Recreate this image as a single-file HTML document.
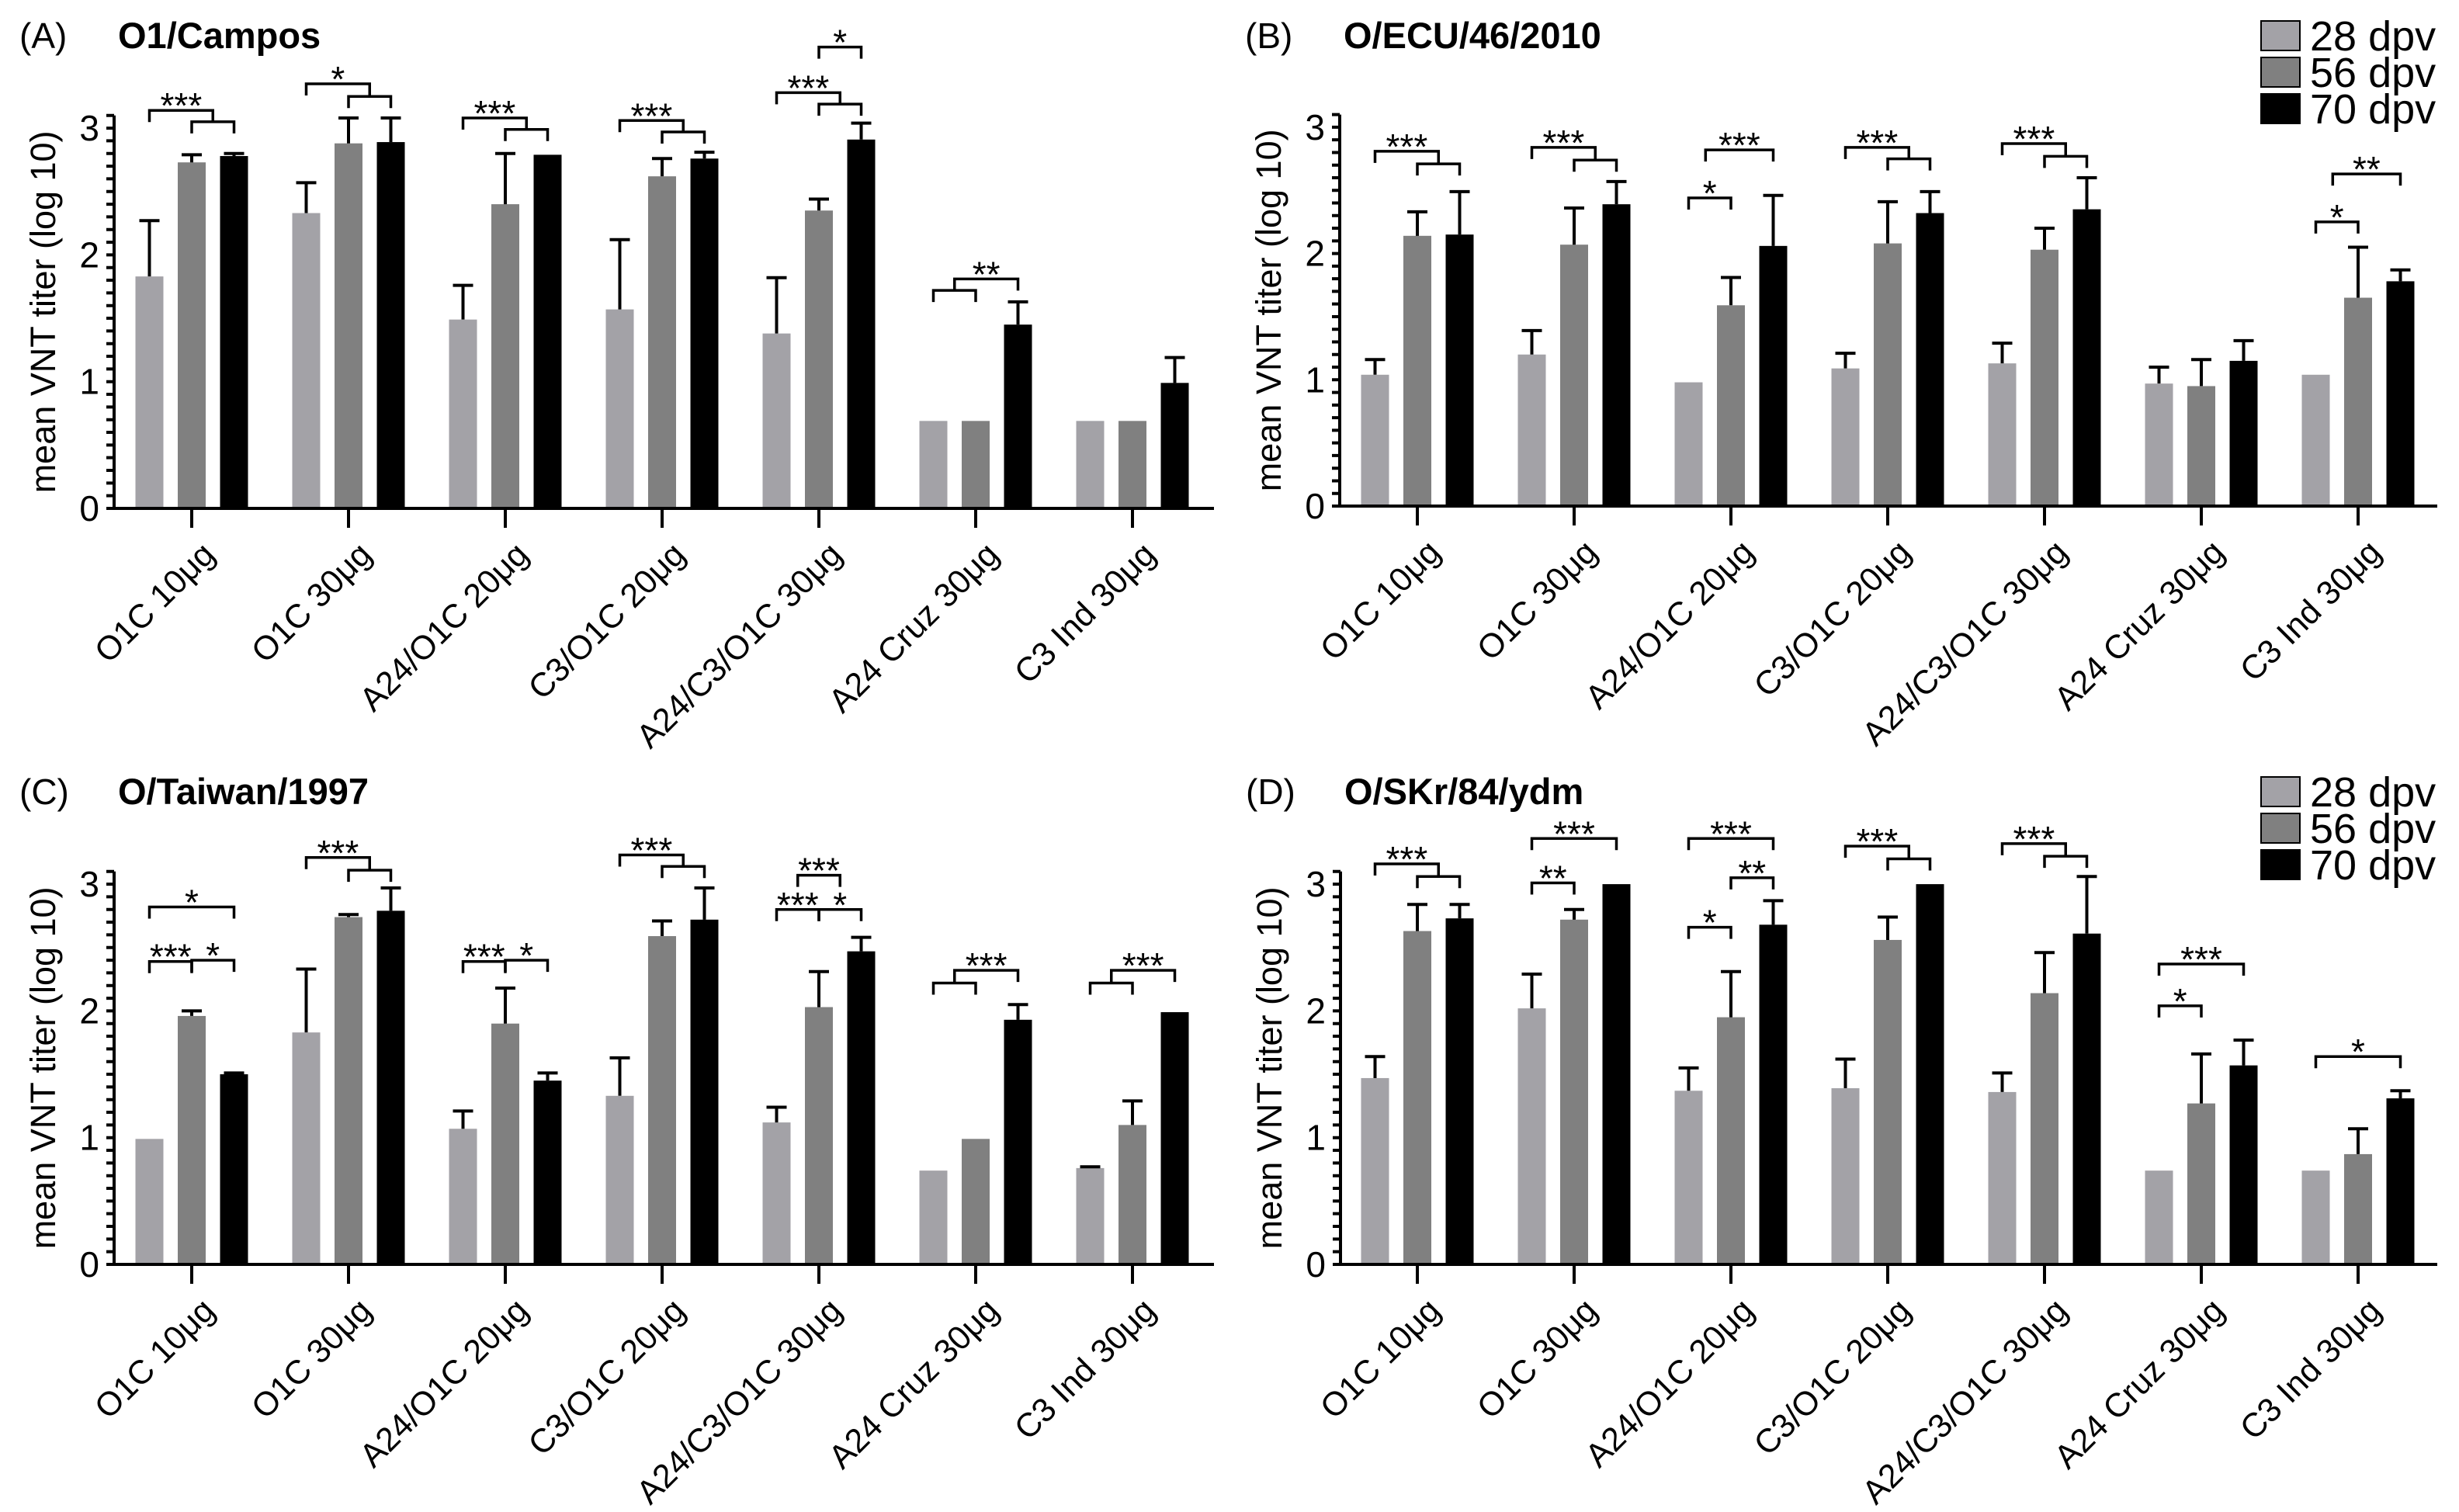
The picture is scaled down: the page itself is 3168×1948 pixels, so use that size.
<!DOCTYPE html>
<html><head><meta charset="utf-8">
<style>
html,body{margin:0;padding:0;background:#fff;}
svg{display:block;font-family:"Liberation Sans",Arial,sans-serif;}
</style></head>
<body>
<svg id="fig" width="3168" height="1948" viewBox="0 0 3168 1948" xmlns="http://www.w3.org/2000/svg"></svg>
<script>
const categories = ["O1C 10μg","O1C 30μg","A24/O1C 20μg","C3/O1C 20μg","A24/C3/O1C 30μg","A24 Cruz 30μg","C3 Ind 30μg"];
const tickLabels = [0,1,2,3];
const seriesNames = ["28 dpv","56 dpv","70 dpv"];

const A28 = [1.83,2.33,1.49,1.57,1.38,0.69,0.69];
const A28e = [2.27,2.57,1.76,2.12,1.82,null,null];
const A56 = [2.73,2.88,2.40,2.62,2.35,0.69,0.69];
const A56e = [2.79,3.08,2.80,2.76,2.44,null,null];
const A70 = [2.78,2.89,2.79,2.76,2.91,1.45,0.99];
const A70e = [2.80,3.08,null,2.81,3.04,1.63,1.19];
const ASig = [[0,0,1.5,3.14,'***'],[0,1,2,3.05,''],[1,0,1.5,3.35,'*'],[1,1,2,3.25,''],[2,0,1.5,3.08,'***'],[2,1,2,2.99,''],[3,0,1.5,3.06,'***'],[3,1,2,2.97,''],[4,0,1.5,3.28,'***'],[4,1,2,3.19,''],[4,1,2,3.64,'*'],[5,0.5,2,1.81,'**'],[5,0,1,1.72,'']];

const B28 = [1.04,1.20,0.98,1.09,1.13,0.97,1.04];
const B28e = [1.16,1.39,null,1.21,1.29,1.10,null];
const B56 = [2.14,2.07,1.59,2.08,2.03,0.95,1.65];
const B56e = [2.33,2.36,1.81,2.41,2.20,1.16,2.05];
const B70 = [2.15,2.39,2.06,2.32,2.35,1.15,1.78];
const B70e = [2.49,2.57,2.46,2.49,2.60,1.31,1.87];
const BSig = [[0,0,1.5,2.81,'***'],[0,1,2,2.71,''],[1,0,1.5,2.84,'***'],[1,1,2,2.74,''],[2,0,1,2.44,'*'],[2,0.4,2,2.82,'***'],[3,0,1.5,2.84,'***'],[3,1,2,2.75,''],[4,0,1.5,2.87,'***'],[4,1,2,2.77,''],[6,0,1,2.25,'*'],[6,0.4,2,2.63,'**']];

const C28 = [0.99,1.83,1.07,1.33,1.12,0.74,0.76];
const C28e = [null,2.33,1.21,1.63,1.24,null,0.77];
const C56 = [1.96,2.74,1.90,2.59,2.03,0.99,1.10];
const C56e = [2.00,2.76,2.18,2.71,2.31,null,1.29];
const C70 = [1.50,2.79,1.45,2.72,2.47,1.93,1.99];
const C70e = [1.51,2.97,1.51,2.97,2.58,2.05,null];
const CSig = [[0,0,1,2.39,'***'],[0,1,2,2.40,'*'],[0,0,2,2.82,'*'],[1,0,1.5,3.21,'***'],[1,1,2,3.11,''],[2,0,1,2.39,'***'],[2,1,2,2.40,'*'],[3,0,1.5,3.23,'***'],[3,1,2,3.14,''],[4,0,1,2.80,'***'],[4,1,2,2.80,'*'],[4,0.5,1.5,3.07,'***'],[5,0.5,2,2.32,'***'],[5,0,1,2.22,''],[6,0.5,2,2.32,'***'],[6,0,1,2.22,'']];

const D28 = [1.47,2.02,1.37,1.39,1.36,0.74,0.74];
const D28e = [1.64,2.29,1.55,1.62,1.51,null,null];
const D56 = [2.63,2.72,1.95,2.56,2.14,1.27,0.87];
const D56e = [2.84,2.80,2.31,2.74,2.46,1.66,1.07];
const D70 = [2.73,3.00,2.68,3.00,2.61,1.57,1.31];
const D70e = [2.84,null,2.87,null,3.06,1.77,1.37];
const DSig = [[0,0,1.5,3.16,'***'],[0,1,2,3.06,''],[1,0,1,3.01,'**'],[1,0,2,3.36,'***'],[2,0,1,2.66,'*'],[2,1,2,3.05,'**'],[2,0,2,3.36,'***'],[3,0,1.5,3.30,'***'],[3,1,2,3.20,''],[4,0,1.5,3.32,'***'],[4,1,2,3.22,''],[5,0,1,2.04,'*'],[5,0,2,2.37,'***'],[6,0,2,1.64,'*']];

const NS = "http://www.w3.org/2000/svg";
const svg = document.getElementById('fig');
const colors = ["#a3a2a7","#808080","#000000"];
function mk(tag, attrs, parent){
  const e = document.createElementNS(NS, tag);
  for (const k in attrs) e.setAttribute(k, attrs[k]);
  (parent||svg).appendChild(e);
  return e;
}
function drawPanel(p){
  const g = mk('g', {});
  
  
  const y = v => p.base - v * p.unit;
  const gx = i => p.g0 + i * 202;
  const bx = (i, s) => gx(i) + (s - 1) * 54.5;
  const t1 = mk('text', {x: p.ox - 122, y: p.titleY, 'font-size': 46}, g);
  t1.textContent = '(' + p.letter + ')';
  
  
  const t2 = mk('text', {x: p.ox + 5, y: p.titleY, 'font-size': 47, 'font-weight': 'bold'}, g);
  t2.textContent = p.title;
  
  
  const cy = y(1.55);
  const lx = p.ox - 76;
  const yl = mk('text', {x: lx, y: cy, 'font-size': 45, 'text-anchor': 'middle', transform: 'rotate(-90 ' + lx + ' ' + cy + ')'}, g);
  yl.textContent = 'mean VNT titer (log 10)';
  
  
  const vals = [p.v28, p.v56, p.v70], errs = [p.e28, p.e56, p.e70];
  for (let s = 0; s < 3; s++) {
    for (let i = 0; i < categories.length; i++) {
      const v = vals[s][i];
      const r = mk('rect', {x: bx(i, s) - 18, y: y(v), width: 36, height: p.base - y(v), fill: colors[s]}, g);
      
      
      const e = errs[s][i];
      if (e !== null) {
        const eg = mk('path', {d: 'M' + bx(i, s) + ' ' + y(v) + 'V' + y(e) + 'M' + (bx(i, s) - 13) + ' ' + y(e) + 'H' + (bx(i, s) + 13), stroke: '#000', 'stroke-width': 4, fill: 'none'}, g);
        
        
      }
    }
  }
  let ax = 'M' + p.ox + ' ' + y(3.1) + 'V' + p.base + 'H' + p.end;
  for (let k = 0; k <= 31; k++) {
    ax += 'M' + (p.ox - 10) + ' ' + y(k / 10) + 'H' + p.ox;
  }
  for (let i = 0; i < categories.length; i++) ax += 'M' + gx(i) + ' ' + p.base + 'V' + (p.base + 25);
  const axp = mk('path', {d: ax, stroke: '#000', 'stroke-width': 4, fill: 'none'}, g);
  
  
  for (const tv of tickLabels) {
    const tl = mk('text', {x: p.ox - 19, y: y(tv) + 16, 'font-size': 46, 'text-anchor': 'end'}, g);
    tl.textContent = tv;
    
    
  }
  for (let i = 0; i < categories.length; i++) {
    const ax0 = gx(i) + 32, ay0 = p.base + 62;
    const xl = mk('text', {x: ax0, y: ay0, 'font-size': 43, 'text-anchor': 'end', transform: 'rotate(-45 ' + ax0 + ' ' + ay0 + ')'}, g);
    xl.textContent = categories[i];
    
    
  }
  for (const b of p.sig) {
    const x1 = bx(b[0], b[1]), x2 = bx(b[0], b[2]), yy = y(b[3]);
    const br = mk('path', {d: 'M' + x1 + ' ' + (yy + 15) + 'V' + yy + 'H' + x2 + 'V' + (yy + 15), stroke: '#000', 'stroke-width': 3.5, fill: 'none'}, g);
    
    
    if (b[4]) {
      const st = mk('text', {x: (x1 + x2) / 2, y: yy + 10, 'font-size': 46, 'text-anchor': 'middle'}, g);
      st.textContent = b[4];
      
      
    }
  }
  if (p.legendY !== undefined) {
    for (let s = 0; s < 3; s++) {
      const ly = p.legendY + s * 47;
      const lr = mk('rect', {x: 2913, y: ly, width: 50, height: 38, fill: colors[s], stroke: '#000', 'stroke-width': 2}, g);
      
      
      const lt = mk('text', {x: 2976, y: ly + 38, 'font-size': 54}, g);
      lt.textContent = seriesNames[s];
      
      
    }
  }
}
drawPanel({letter:'A', title:'O1/Campos', ox:147, base:655, unit:163.3, g0:247, end:1564, titleY:62, v28:A28, e28:A28e, v56:A56, e56:A56e, v70:A70, e70:A70e, sig:ASig});
drawPanel({letter:'B', title:'O/ECU/46/2010', ox:1726, base:652, unit:162.7, g0:1826, end:3140, titleY:62, v28:B28, e28:B28e, v56:B56, e56:B56e, v70:B70, e70:B70e, sig:BSig, legendY:27});
drawPanel({letter:'C', title:'O/Taiwan/1997', ox:147, base:1629, unit:163.3, g0:247, end:1564, titleY:1036, v28:C28, e28:C28e, v56:C56, e56:C56e, v70:C70, e70:C70e, sig:CSig});
drawPanel({letter:'D', title:'O/SKr/84/ydm', ox:1727, base:1629, unit:163.3, g0:1826, end:3140, titleY:1036, v28:D28, e28:D28e, v56:D56, e56:D56e, v70:D70, e70:D70e, sig:DSig, legendY:1001});
</script>
</body></html>
